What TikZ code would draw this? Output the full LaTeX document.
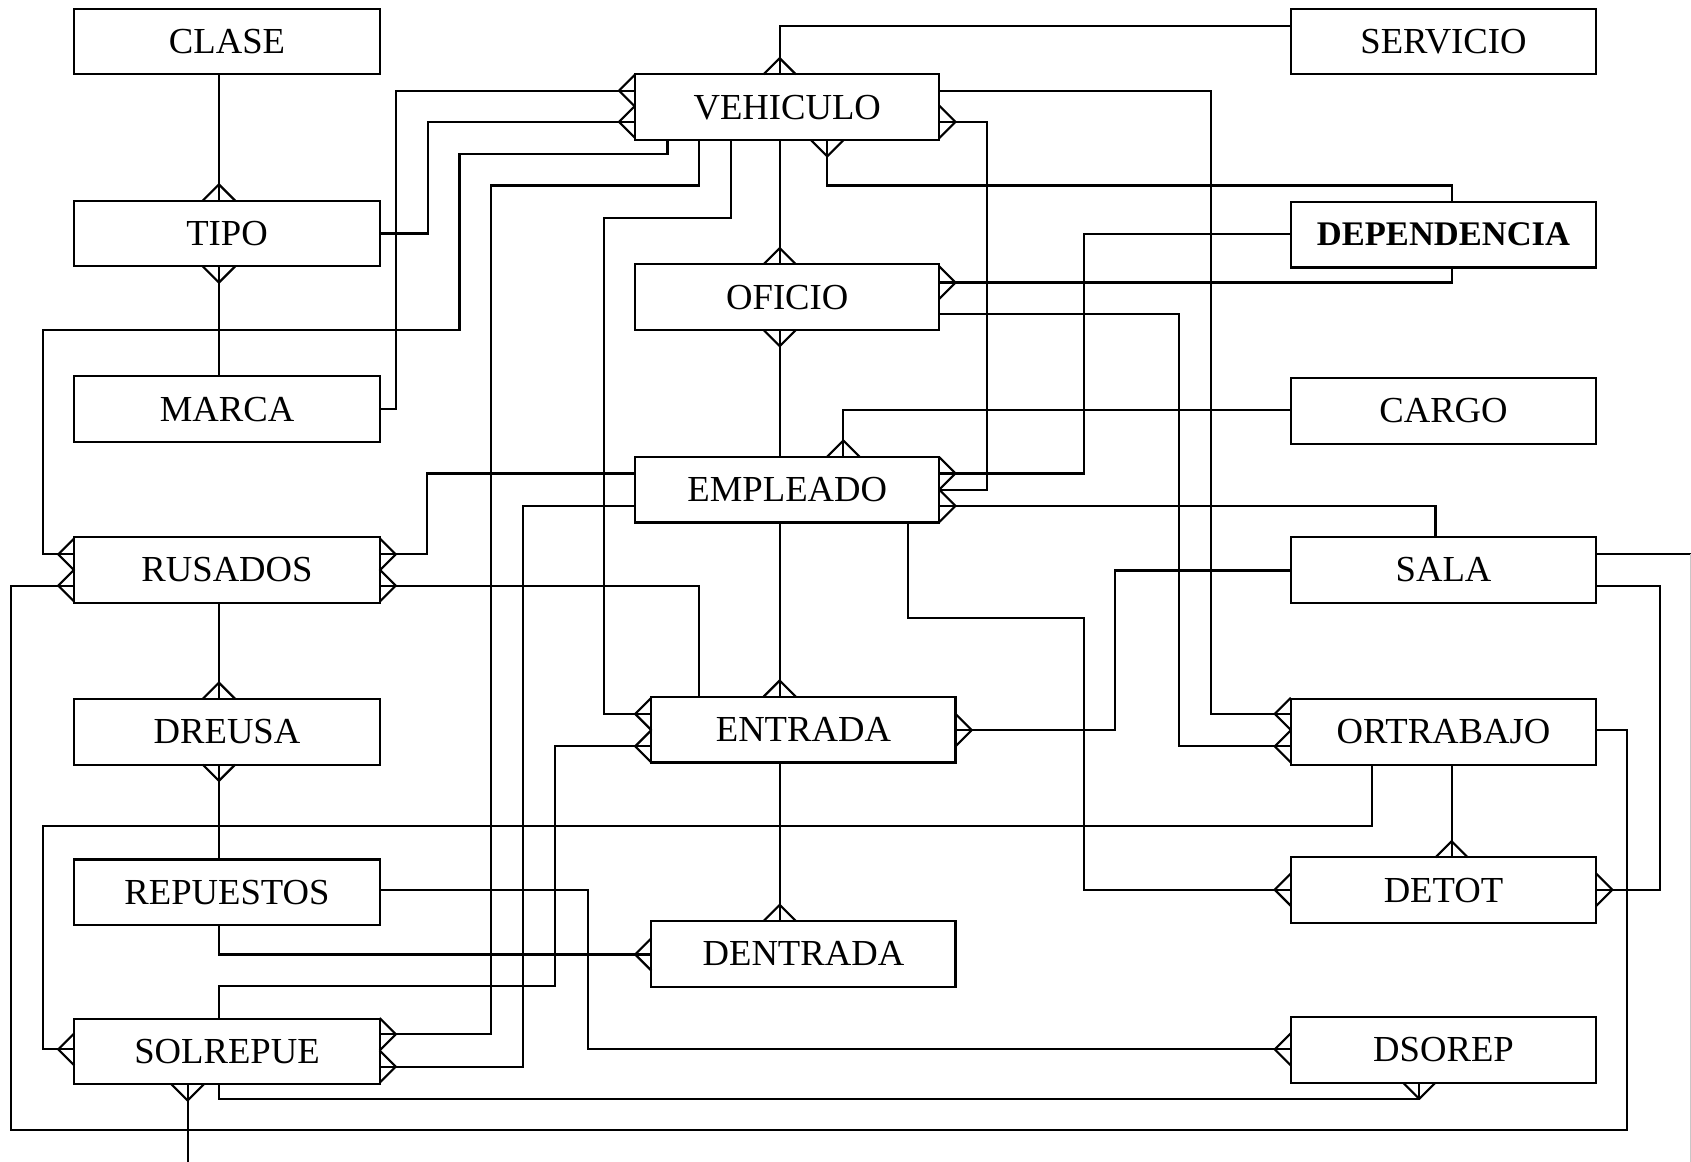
\documentclass[tikz,border=0pt]{standalone}
\usepackage{fontspec}
\setmainfont{Liberation Serif}
\begin{document}
\begin{tikzpicture}[x=1pt,y=-1pt,line width=2pt,
  ent/.style={draw,line width=2pt,minimum width=283pt,minimum height=61pt,inner sep=0pt,
    font=\fontsize{34}{40}\selectfont},
  entb/.style={ent,font=\fontsize{32}{38}\selectfont\bfseries},
  pics/footL/.style={code={\draw (-14,0) -- (1,-15) (-14,0) -- (1,15);}},
  pics/footR/.style={code={\draw (14,0) -- (-1,-15) (14,0) -- (-1,15);}},
  pics/footU/.style={code={\draw (0,-14) -- (-15,1) (0,-14) -- (15,1);}},
  pics/footD/.style={code={\draw (0,14) -- (-15,-1) (0,14) -- (15,-1);}},
  faint/.style={draw=black!22,line width=1pt}]
\useasboundingbox (0,0) rectangle (1568,1077);
% entities
\node[ent] (clase) at (210.5,38.5) {CLASE};
\node[ent] (tipo) at (210.5,216.5) {TIPO};
\node[ent] (marca) at (210.5,379.5) {MARCA};
\node[ent] (rusados) at (210.5,528.5) {RUSADOS};
\node[ent] (dreusa) at (210.5,678.5) {DREUSA};
\node[ent] (repuestos) at (210.5,827.5) {REPUESTOS};
\node[ent] (solrepue) at (210.5,975) {SOLREPUE};
\node[ent,minimum width=282pt] (vehiculo) at (730,99.5) {VEHICULO};
\node[ent,minimum width=282pt] (oficio) at (730,275.5) {OFICIO};
\node[ent,minimum width=282pt] (empleado) at (730,454) {EMPLEADO};
\node[ent,minimum width=282pt] (entrada) at (745,676.5) {ENTRADA};
\node[ent,minimum width=282pt] (dentrada) at (745,884.5) {DENTRADA};
\node[ent] (servicio) at (1338.5,38.5) {SERVICIO};
\node[entb] (dependencia) at (1338.5,217.5) {DEPENDENCIA};
\node[ent] (cargo) at (1338.5,381) {CARGO};
\node[ent] (sala) at (1338.5,528.5) {SALA};
\node[ent] (ortrabajo) at (1338.5,678.5) {ORTRABAJO};
\node[ent] (detot) at (1338.5,825.5) {DETOT};
\node[ent] (dsorep) at (1338.5,973.5) {DSOREP};
\coordinate (salaout) at (1568,514);
\coordinate (solout) at (174,1077);
% connectors
\draw (clase.south -| 203,0) -- (tipo.north -| 203,0);
\pic at (tipo.north -| 203,0) {footU};
\draw (tipo.south -| 203,0) -- (marca.north -| 203,0);
\pic at (tipo.south -| 203,0) {footD};
\draw (tipo.east) -| (397,113) -- (vehiculo.west |- 0,113);
\pic at (vehiculo.west |- 0,113) {footL};
\draw (marca.east) -| (367,84) -- (vehiculo.west |- 0,84);
\pic at (vehiculo.west |- 0,84) {footL};
\draw (vehiculo.south -| 619,0) |- (426,143) |- (40,306) |- (rusados.west |- 0,514);
\pic at (rusados.west |- 0,514) {footL};
\draw (vehiculo.south -| 648,0) |- (455,172) |- (solrepue.east |- 0,959);
\pic at (solrepue.east |- 0,959) {footR};
\draw (vehiculo.south -| 678,0) |- (560,202) |- (entrada.west |- 0,662);
\pic at (entrada.west |- 0,662) {footL};
\draw (vehiculo.south -| 723,0) -- (oficio.north -| 723,0);
\pic at (oficio.north -| 723,0) {footU};
\draw (oficio.south -| 723,0) -- (empleado.north -| 723,0);
\pic at (oficio.south -| 723,0) {footD};
\draw (dependencia.north -| 1346,0) |- (767,172) -- (vehiculo.south -| 767,0);
\pic at (vehiculo.south -| 767,0) {footD};
\draw (servicio.west |- 0,24) -| (vehiculo.north -| 723,0);
\pic at (vehiculo.north -| 723,0) {footU};
\draw (vehiculo.east |- 0,84) -| (1123,662) -- (ortrabajo.west |- 0,662);
\pic at (ortrabajo.west |- 0,662) {footL};
\draw (vehiculo.east |- 0,113) -| (915,454) -- (empleado.east |- 0,454);
\pic at (vehiculo.east |- 0,113) {footR};
\draw (dependencia.west |- 0,217) -| (1005,439) -- (empleado.east |- 0,439);
\pic at (empleado.east |- 0,439) {footR};
\draw (sala.north -| 1331,0) |- (empleado.east |- 0,469);
\pic at (empleado.east |- 0,469) {footR};
\draw (dependencia.south -| 1346,0) |- (oficio.east |- 0,262);
\pic at (oficio.east |- 0,262) {footR};
\draw (oficio.east |- 0,291) -| (1093,692) -- (ortrabajo.west |- 0,692);
\pic at (ortrabajo.west |- 0,692) {footL};
\draw (cargo.west |- 0,380) -| (empleado.north -| 782,0);
\pic at (empleado.north -| 782,0) {footU};
\draw (empleado.west |- 0,439) -| (396,514) -- (rusados.east |- 0,514);
\pic at (rusados.east |- 0,514) {footR};
\draw (empleado.west |- 0,469) -| (485,989) -- (solrepue.east |- 0,989);
\pic at (solrepue.east |- 0,989) {footR};
\draw (entrada.north -| 648,0) |- (rusados.east |- 0,543);
\pic at (rusados.east |- 0,543) {footR};
\draw (ortrabajo.east |- 0,677) -| (1509,1048) -| (10,543) -- (rusados.west |- 0,543);
\pic at (rusados.west |- 0,543) {footL};
\draw (rusados.south -| 203,0) -- (dreusa.north -| 203,0);
\pic at (dreusa.north -| 203,0) {footU};
\draw (dreusa.south -| 203,0) -- (repuestos.north -| 203,0);
\pic at (dreusa.south -| 203,0) {footD};
\draw (ortrabajo.south -| 1272,0) |- (40,766) |- (solrepue.west |- 0,973);
\pic at (solrepue.west |- 0,973) {footL};
\draw (ortrabajo.south -| 1346,0) -- (detot.north -| 1346,0);
\pic at (detot.north -| 1346,0) {footU};
\draw (sala.west |- 0,529) -| (1034,677) -- (entrada.east |- 0,677);
\pic at (entrada.east |- 0,677) {footR};
\draw (sala.east |- 0,514) -- (salaout);
\draw[faint] ([xshift=-0.5pt]salaout) -- ++(0,563);
\draw (sala.east |- 0,543) -| (1539,825) -- (detot.east |- 0,825);
\pic at (detot.east |- 0,825) {footR};
\draw (empleado.south -| 842,0) |- (1005,573) |- (detot.west |- 0,825);
\pic at (detot.west |- 0,825) {footL};
\draw (empleado.south -| 723,0) -- (entrada.north -| 723,0);
\pic at (entrada.north -| 723,0) {footU};
\draw (entrada.south -| 723,0) -- (dentrada.north -| 723,0);
\pic at (dentrada.north -| 723,0) {footU};
\draw (solrepue.north -| 203,0) |- (515,914) |- (entrada.west |- 0,692);
\pic at (entrada.west |- 0,692) {footL};
\draw (repuestos.east |- 0,825) -| (545,973) -- (dsorep.west |- 0,973);
\pic at (dsorep.west |- 0,973) {footL};
\draw (repuestos.south -| 203,0) |- (dentrada.west |- 0,885);
\pic at (dentrada.west |- 0,885) {footL};
\draw (solrepue.south -| 203,0) |- (1316,1019) -- (dsorep.south -| 1316,0);
\pic at (dsorep.south -| 1316,0) {footD};
\draw (solrepue.south -| 174,0) -- (solout);
\pic at (solrepue.south -| 174,0) {footD};
\end{tikzpicture}
\end{document}
